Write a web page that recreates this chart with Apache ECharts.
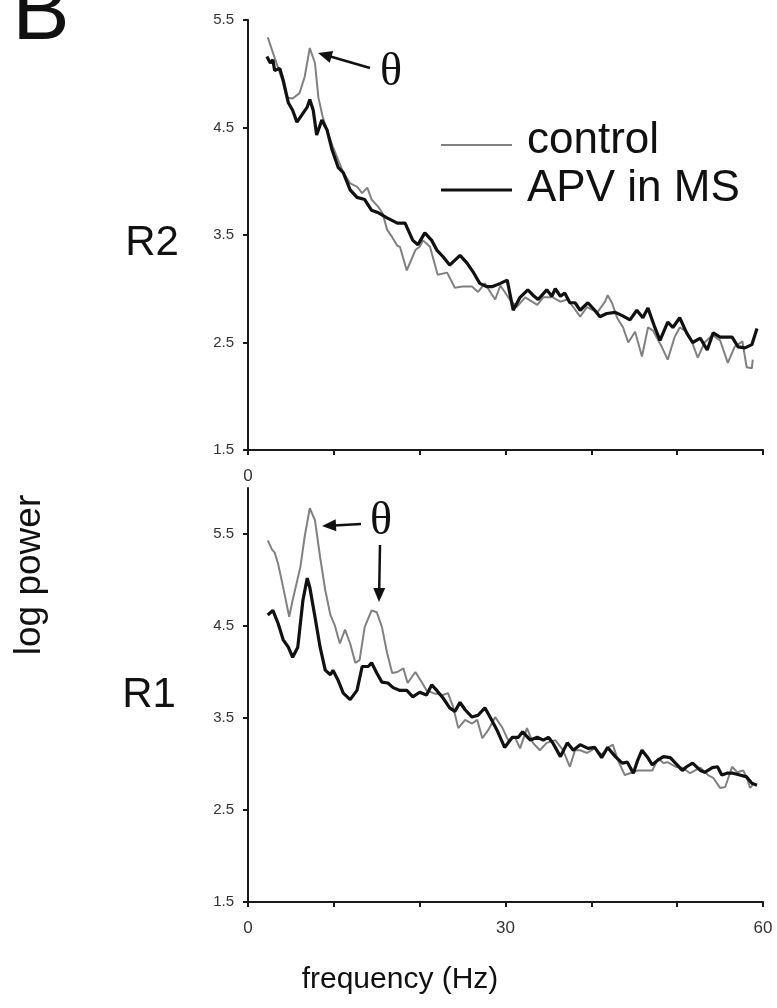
<!DOCTYPE html>
<html>
<head>
<meta charset="utf-8">
<script src="https://cdn.jsdelivr.net/npm/echarts@6/dist/echarts.min.js"></script>
<style>html,body{margin:0;padding:0;background:#fff}#c{width:777px;height:1008px}</style>
</head>
<body>
<div id="c"></div>
<script>
// ---- data (frequency in Hz, log power) ----
const xTicksHz = [0, 10, 20, 30, 40, 50, 60];
const yTicksR2 = [1.5, 2.5, 3.5, 4.5, 5.5];
const yTicksR1 = [1.5, 2.5, 3.5, 4.5, 5.5];

const r2ControlHz = [2.3,3.1,4.0,4.5,5.2,6.0,6.6,7.2,7.8,8.2,8.7,9.3,9.9,10.5,11.1,11.9,12.7,13.3,13.9,14.4,15.2,15.7,16.2,16.8,17.4,17.7,18.5,19.5,20.0,20.4,21.2,22.1,23.2,24.1,25.0,26.1,26.8,27.6,28.3,28.8,29.4,30.5,31.3,32.3,33.7,34.4,35.5,36.4,37.2,37.9,38.7,39.5,40.7,41.6,41.9,42.4,43.0,43.7,44.3,45.1,45.9,46.6,47.2,48.2,48.9,49.7,50.3,51.1,51.7,52.4,53.2,54.1,55.0,55.9,56.7,57.6,58.1,58.7,58.8];
const r2ControlPow = [5.34,5.15,4.94,4.78,4.77,4.82,4.97,5.24,5.10,4.78,4.60,4.45,4.32,4.20,4.08,3.98,3.95,3.89,3.94,3.83,3.76,3.70,3.55,3.48,3.40,3.39,3.17,3.36,3.39,3.45,3.39,3.13,3.15,3.01,3.02,3.02,2.97,3.05,2.96,2.90,3.03,2.90,2.83,2.92,2.85,2.92,2.92,2.88,2.90,2.83,2.74,2.83,2.78,2.88,2.94,2.87,2.73,2.64,2.50,2.60,2.37,2.64,2.61,2.46,2.34,2.55,2.64,2.60,2.51,2.36,2.50,2.57,2.52,2.31,2.46,2.51,2.27,2.26,2.34];

const r2ApvHz = [2.2,2.6,2.9,3.1,3.7,4.1,4.7,5.2,5.7,6.3,6.9,7.2,7.6,8.0,8.6,9.2,9.8,10.5,11.1,11.9,12.7,13.6,14.4,15.1,16.2,17.4,18.3,19.2,19.8,20.6,21.4,22.0,22.7,23.5,24.7,25.5,26.2,27.0,27.8,28.5,29.4,30.2,30.9,31.7,32.6,33.2,33.8,34.8,35.4,35.8,36.4,36.9,37.5,38.1,38.7,39.6,40.4,41.0,41.8,42.8,43.6,44.5,45.3,46.0,46.6,47.4,48.0,48.9,49.5,50.3,51.1,51.8,52.7,53.5,54.2,55.0,55.8,56.4,57.1,57.9,58.7,59.3];
const r2ApvPow = [5.16,5.10,5.13,5.03,5.05,4.94,4.73,4.66,4.55,4.62,4.69,4.76,4.66,4.43,4.57,4.48,4.29,4.13,4.08,3.92,3.85,3.83,3.73,3.71,3.66,3.61,3.61,3.45,3.41,3.52,3.45,3.36,3.30,3.22,3.31,3.24,3.16,3.05,3.02,3.02,3.05,3.08,2.80,2.92,2.99,2.94,2.90,2.99,2.93,3.00,2.93,2.96,2.87,2.87,2.80,2.87,2.80,2.74,2.77,2.78,2.75,2.71,2.80,2.73,2.82,2.64,2.52,2.69,2.64,2.73,2.59,2.50,2.54,2.43,2.59,2.55,2.55,2.55,2.46,2.45,2.48,2.63];

const r1ControlHz = [2.3,2.8,3.1,3.5,4.1,4.8,5.2,6.1,6.6,7.2,7.8,8.4,9.0,9.6,10.1,10.7,11.3,11.9,12.5,13.0,13.6,14.4,15.0,15.6,16.2,16.8,17.4,18.1,18.6,19.5,20.3,20.8,21.6,22.7,23.3,23.9,24.5,25.3,26.1,26.7,27.3,28.0,28.8,29.6,30.3,31.1,31.7,32.5,33.2,34.0,34.8,35.8,36.7,37.5,38.1,38.7,39.5,40.4,41.2,42.0,42.5,43.1,43.9,44.5,45.4,46.5,47.1,47.8,48.4,48.9,49.8,50.6,51.5,52.1,52.7,53.6,54.2,55.0,55.6,56.4,57.0,57.7,58.1,58.5,58.8];
const r1ControlPow = [5.43,5.33,5.30,5.18,4.92,4.60,4.78,5.14,5.47,5.78,5.65,5.25,4.89,4.62,4.51,4.31,4.46,4.31,4.10,4.13,4.49,4.67,4.65,4.49,4.21,3.99,4.00,4.04,3.88,4.00,3.88,3.80,3.77,3.75,3.77,3.62,3.39,3.48,3.44,3.48,3.28,3.37,3.51,3.40,3.26,3.29,3.17,3.39,3.23,3.15,3.23,3.26,3.15,2.97,3.15,3.15,3.12,3.17,3.10,3.18,3.21,3.04,2.88,2.90,2.93,2.93,2.93,3.06,3.01,3.02,2.97,2.96,2.90,2.93,2.96,2.88,2.85,2.74,2.75,2.97,2.91,2.93,2.85,2.74,2.77];

const r1ApvHz = [2.3,2.9,3.5,4.1,4.7,5.2,5.8,6.4,6.9,7.2,7.8,8.4,9.0,9.6,9.9,10.5,11.1,11.9,12.7,13.3,14.0,14.4,15.0,15.6,16.3,16.9,17.7,18.5,19.2,20.0,20.8,21.4,22.0,22.7,23.5,24.1,24.7,25.3,26.1,26.8,27.6,28.2,29.0,29.9,30.8,31.5,32.0,32.9,33.7,34.4,35.0,35.5,36.4,37.2,37.9,38.7,39.6,40.4,41.2,41.9,42.8,43.6,44.2,44.9,45.4,45.9,46.5,47.1,47.7,48.4,49.2,49.8,50.6,51.1,51.8,52.7,53.2,54.1,54.7,55.2,55.8,56.5,57.3,58.1,58.7,59.3];
const r1ApvPow = [4.62,4.67,4.53,4.35,4.27,4.16,4.27,4.78,5.02,4.92,4.60,4.27,4.02,3.97,4.02,3.91,3.77,3.70,3.80,4.06,4.06,4.10,3.99,3.89,3.88,3.83,3.80,3.80,3.73,3.78,3.75,3.86,3.80,3.72,3.61,3.57,3.67,3.59,3.51,3.53,3.61,3.51,3.37,3.18,3.29,3.29,3.35,3.26,3.29,3.26,3.29,3.23,3.08,3.23,3.15,3.21,3.17,3.18,3.07,3.18,3.08,3.01,3.02,2.90,3.04,3.15,3.08,2.99,3.04,3.08,3.07,3.01,2.93,2.97,3.01,2.93,2.91,2.96,2.97,2.88,2.90,2.90,2.88,2.86,2.79,2.77];

const seriesNames = ['control', 'APV in MS'];

// ---- build chart ----
const zip = (xs, ys) => xs.map((x, i) => [x, ys[i]]);
const FONT = 'Liberation Sans, Arial, sans-serif';
const axisLineStyle = { color: '#1a1a1a', width: 2 };

function xAxis(gridIndex, labelFn) {
  return {
    type: 'value', gridIndex, min: 0, max: 60, interval: 10,
    axisLine: { show: true, lineStyle: axisLineStyle, onZero: false },
    axisTick: { show: true, length: 5, inside: false, lineStyle: { color: '#1a1a1a', width: 2 } },
    axisLabel: { show: true, margin: 18, fontSize: 17, color: '#333', fontFamily: FONT,
      formatter: v => labelFn(v) ? String(v) : '' },
    splitLine: { show: false }
  };
}
function yAxis(gridIndex, max, ticks) {
  return {
    type: 'value', gridIndex, min: 1.5, max, interval: 1,
    axisLine: { show: true, lineStyle: axisLineStyle, onZero: false },
    axisTick: { show: true, length: 5, lineStyle: { color: '#1a1a1a', width: 2 }, customValues: ticks },
    axisLabel: { show: true, margin: 14, fontSize: 15, color: '#333', fontFamily: FONT,
      customValues: ticks,
      formatter: v => (ticks.some(t => Math.abs(t - v) < 1e-6) ? v.toFixed(1) : '') },
    splitLine: { show: false }
  };
}

const grayLine = { color: '#808080', width: 2 };
const blackLine = { color: '#111', width: 3.2 };

function arrow(tail, tip, head, half) {
  const dx = tip[0] - tail[0], dy = tip[1] - tail[1];
  const L = Math.hypot(dx, dy), ux = dx / L, uy = dy / L;
  const bx = tip[0] - ux * head, by = tip[1] - uy * head;
  const px = -uy * half, py = ux * half;
  return [
    { type: 'line', shape: { x1: tail[0], y1: tail[1], x2: bx + ux * 2, y2: by + uy * 2 }, style: { stroke: '#111', lineWidth: 2.5 } },
    { type: 'polygon', shape: { points: [tip, [bx + px, by + py], [bx - px, by - py]] }, style: { fill: '#111' } }
  ];
}

const txt = (x, y, text, size, extra) => Object.assign({
  type: 'text', x, y,
  style: Object.assign({ text, font: size + 'px ' + FONT, fill: '#111', align: 'center', verticalAlign: 'middle' }, extra || {})
});

const option = {
  backgroundColor: '#fff',
  animation: false,
  grid: [
    { left: 248, top: 20, width: 515, height: 430 },
    { left: 248, top: 488, width: 515, height: 414 }
  ],
  xAxis: [
    xAxis(0, v => v === 0),
    xAxis(1, v => v % 30 === 0)
  ],
  yAxis: [
    yAxis(0, 5.5, yTicksR2),
    yAxis(1, 6, yTicksR1)
  ],
  series: [
    { name: seriesNames[0], type: 'line', xAxisIndex: 0, yAxisIndex: 0, data: zip(r2ControlHz, r2ControlPow), showSymbol: false, symbol: 'none', lineStyle: grayLine, z: 2 },
    { name: seriesNames[1], type: 'line', xAxisIndex: 0, yAxisIndex: 0, data: zip(r2ApvHz, r2ApvPow), showSymbol: false, symbol: 'none', lineStyle: blackLine, z: 3 },
    { name: seriesNames[0], type: 'line', xAxisIndex: 1, yAxisIndex: 1, data: zip(r1ControlHz, r1ControlPow), showSymbol: false, symbol: 'none', lineStyle: grayLine, z: 2 },
    { name: seriesNames[1], type: 'line', xAxisIndex: 1, yAxisIndex: 1, data: zip(r1ApvHz, r1ApvPow), showSymbol: false, symbol: 'none', lineStyle: blackLine, z: 3 }
  ],
  graphic: [
    txt(41, 15, 'B', 86),
    txt(152, 243, 'R2', 42),
    txt(149, 695, 'R1', 42),
    Object.assign(txt(0, 0, 'log power', 37), { x: 30, y: 575, rotation: Math.PI / 2 }),
    txt(400, 980, 'frequency (Hz)', 30),
    // legend
    { type: 'line', shape: { x1: 441, y1: 145, x2: 512, y2: 145 }, style: { stroke: '#808080', lineWidth: 2 } },
    { type: 'line', shape: { x1: 441, y1: 190, x2: 512, y2: 190 }, style: { stroke: '#111', lineWidth: 3 } },
    txt(527, 141, seriesNames[0], 44, { align: 'left' }),
    txt(527, 189, seriesNames[1], 44, { align: 'left' }),
    // theta annotations
    txt(391, 73, 'θ', 46, { font: '46px Liberation Serif, Times New Roman, serif' }),
    ...arrow([370, 68], [318, 53], 14, 6),
    txt(381, 522, 'θ', 46, { font: '46px Liberation Serif, Times New Roman, serif' }),
    ...arrow([361, 524], [322, 526], 14, 6),
    ...arrow([380, 545], [379, 602], 14, 6)
  ]
};

const chart = echarts.init(document.getElementById('c'), null, { renderer: 'canvas' });
chart.setOption(option);
</script>
</body>
</html>
